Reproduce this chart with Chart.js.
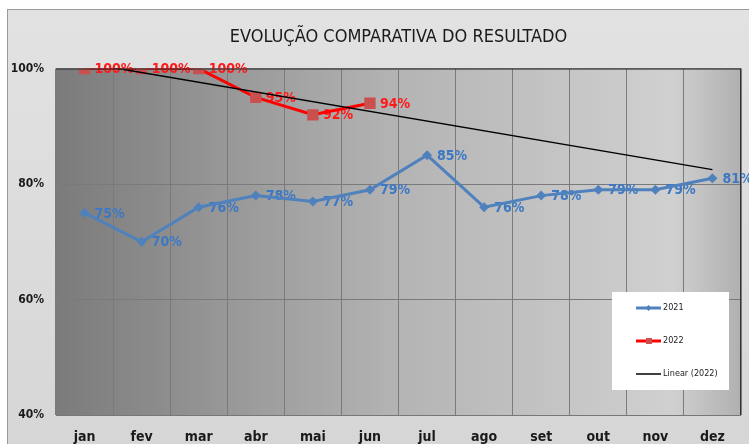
<!DOCTYPE html>
<html>
<head>
<meta charset="utf-8">
<script src="https://cdn.jsdelivr.net/npm/chart.js@4/dist/chart.umd.min.js"></script>
<style>
  body { margin: 0; background: #fff; }
  #wrap { position: relative; width: 749px; height: 444px; }
</style>
</head>
<body>
<div id="wrap"><canvas id="myChart" width="749" height="444"></canvas></div>
<script>
// chart values
var months = ['jan', 'fev', 'mar', 'abr', 'mai', 'jun', 'jul', 'ago', 'set', 'out', 'nov', 'dez'];
var result2021 = [0.75, 0.70, 0.76, 0.78, 0.77, 0.79, 0.85, 0.76, 0.78, 0.79, 0.79, 0.81];
var result2022 = [1.00, 1.00, 1.00, 0.95, 0.92, 0.94];
// trendline ends (jan, dez)
var trend2022 = [1.01, null, null, null, null, null, null, null, null, null, null, 0.825];
var yTicks = [0.4, 0.6, 0.8, 1.0];

var FONT = '"DejaVu Sans Condensed", "Liberation Sans Narrow", "Open Sans", sans-serif';
var BLUE = '#4f81bd';

function pct(v) { return Math.round(v * 100) + '%'; }

// background frame + plot area gradient
var bgPlugin = {
    id: 'bg',
    beforeDraw: function (chart) {
        var ctx = chart.ctx, a = chart.chartArea;
        ctx.save();
        var g = ctx.createLinearGradient(0, 9, 0, 444);
        g.addColorStop(0, '#e2e2e2');
        g.addColorStop(1, '#d6d6d6');
        ctx.fillStyle = g;
        ctx.fillRect(7, 9, 742, 435);
        ctx.strokeStyle = '#9a9a9a';
        ctx.lineWidth = 1;
        ctx.strokeRect(7.5, 9.5, 760, 460);

        var p = ctx.createLinearGradient(a.left, 0, a.right, 0);
        p.addColorStop(0, '#7b7b7b');
        p.addColorStop(0.5, '#b4b4b4');
        p.addColorStop(0.9, '#d0d0d0');
        p.addColorStop(1, '#b0b0b0');
        ctx.fillStyle = p;
        ctx.fillRect(a.left, a.top, a.right - a.left, a.bottom - a.top);
        ctx.restore();
    },
    afterDraw: function (chart) {
        var ctx = chart.ctx, a = chart.chartArea;
        ctx.save();
        ctx.strokeStyle = '#333';
        ctx.lineWidth = 1;
        ctx.beginPath();
        ctx.moveTo(a.left, a.top + 0.5);
        ctx.lineTo(a.right, a.top + 0.5);
        ctx.moveTo(a.right - 0.5, a.top);
        ctx.lineTo(a.right - 0.5, a.bottom);
        ctx.stroke();
        ctx.strokeStyle = '#777';
        ctx.beginPath();
        ctx.moveTo(a.left, a.bottom + 0.5);
        ctx.lineTo(a.right, a.bottom + 0.5);
        ctx.stroke();

        // legend box
        var lx = 612, ly = 292;
        ctx.fillStyle = '#fff';
        ctx.fillRect(lx, ly, 117, 98);
        var items = [
            { text: '2021', color: BLUE, w: 3, style: 'diamond' },
            { text: '2022', color: '#ff0000', w: 3, style: 'square' },
            { text: 'Linear (2022)', color: '#000', w: 1.5, style: null }
        ];
        ctx.font = '9px ' + FONT;
        ctx.textBaseline = 'middle';
        items.forEach(function (it, i) {
            var y = ly + 16 + i * 33;
            ctx.strokeStyle = it.color;
            ctx.lineWidth = it.w;
            ctx.beginPath();
            ctx.moveTo(lx + 24, y);
            ctx.lineTo(lx + 49, y);
            ctx.stroke();
            if (it.style === 'diamond') {
                ctx.fillStyle = it.color;
                ctx.beginPath();
                ctx.moveTo(lx + 36.5, y - 3);
                ctx.lineTo(lx + 39.5, y);
                ctx.lineTo(lx + 36.5, y + 3);
                ctx.lineTo(lx + 33.5, y);
                ctx.fill();
            } else if (it.style === 'square') {
                ctx.fillStyle = '#c9504f';
                ctx.fillRect(lx + 34, y - 3, 6, 6);
            }
            ctx.fillStyle = '#222';
            ctx.fillText(it.text, lx + 51, y);
        });
        ctx.restore();
    }
};

// point value labels, drawn under the lines
var labelPlugin = {
    id: 'valueLabels',
    beforeDatasetsDraw: function (chart) {
        var ctx = chart.ctx;
        ctx.save();
        ctx.font = 'bold 14px ' + FONT;
        ctx.textBaseline = 'middle';
        ctx.textAlign = 'left';
        [0, 1].forEach(function (di) {
            var ds = chart.data.datasets[di];
            var meta = chart.getDatasetMeta(di);
            ctx.fillStyle = ds.labelColor;
            meta.data.forEach(function (pt, i) {
                if (ds.data[i] == null) return;
                ctx.fillText(pct(ds.data[i]), pt.x + 10, pt.y + 1);
            });
        });
        ctx.restore();
    }
};

var chartdata = {
    labels: months,
    datasets: [
        {
            label: '2021',
            data: result2021,
            borderColor: BLUE,
            backgroundColor: BLUE,
            borderWidth: 3,
            pointStyle: 'rectRot',
            pointRadius: 5,
            pointBorderWidth: 0,
            labelColor: '#3c78c4',
            order: 3
        },
        {
            label: '2022',
            data: result2022,
            borderColor: '#ff0000',
            backgroundColor: '#c9504f',
            borderWidth: 3,
            pointStyle: 'rect',
            pointRadius: 8,
            pointBorderWidth: 0,
            labelColor: '#ff1a1a',
            order: 2
        },
        {
            label: 'Linear (2022)',
            data: trend2022,
            borderColor: '#000',
            borderWidth: 1.5,
            pointRadius: 0,
            spanGaps: true,
            order: 1
        }
    ]
};

var graphTarget = document.getElementById('myChart');

var lineGraph = new Chart(graphTarget, {
    type: 'line',
    data: chartdata,
    plugins: [bgPlugin, labelPlugin],
    options: {
        responsive: false,
        animation: false,
        layout: { padding: { left: 8, right: 3, top: 27, bottom: 0 } },
        plugins: {
            legend: { display: false },
            tooltip: { enabled: false },
            title: {
                display: true,
                fullSize: false,
                text: 'EVOLUÇÃO COMPARATIVA DO RESULTADO',
                color: '#1a1a1a',
                font: { family: FONT, size: 18, weight: 'normal' },
                padding: { top: 0, bottom: 20 }
            }
        },
        scales: {
            x: {
                offset: true,
                grid: { offset: true, color: '#7a7a7a', drawTicks: false },
                border: { display: false },
                ticks: { color: '#1a1a1a', font: { family: FONT, size: 14, weight: 'bold' }, padding: 14 },
                afterFit: function (s) { s.height = 29; }
            },
            y: {
                min: 0.4,
                max: 1.0,
                afterBuildTicks: function (s) { s.ticks = yTicks.map(function (v) { return { value: v }; }); },
                grid: { color: '#7a7a7a', drawTicks: false },
                border: { display: false },
                ticks: {
                    color: '#1a1a1a',
                    font: { family: FONT, size: 12, weight: 'bold' },
                    padding: 12,
                    callback: function (v) { return pct(v); }
                },
                afterFit: function (s) { s.width = 48; }
            }
        }
    }
});
</script>
</body>
</html>
